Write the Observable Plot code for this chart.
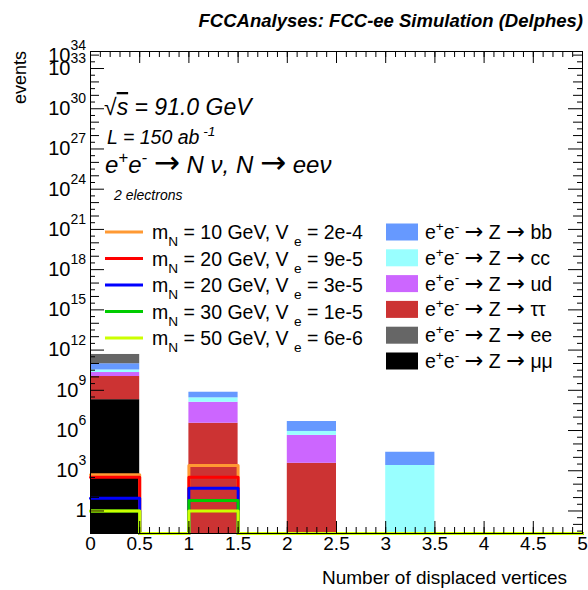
<!DOCTYPE html>
<html><head><meta charset="utf-8">
<script src="https://cdn.jsdelivr.net/npm/d3@7"></script>
<script src="https://cdn.jsdelivr.net/npm/@observablehq/plot@0.6"></script>
<style>
body{margin:0;background:#fff}
#chart{width:588px;height:590px;overflow:hidden}
</style>
</head><body><div id="chart"></div>
<script>
// ---------- data ----------
const binEdges = [0, 0.5, 1, 1.5, 2, 2.5, 3, 3.5, 4, 4.5, 5];
// background legend order (top -> bottom)
const bkgLabels = ["bb", "cc", "ud", "ττ", "ee", "μμ"];
const bkgColors = ["#6699ff", "#99ffff", "#cc66ff", "#cc3333", "#666666", "#000000"];
// events per bin (10 bins of width 0.5)
const bkgBB   = [6.3e10, 0, 4.45e8, 0, 3.85e6, 0, 2.15e4, 0, 0, 0];
const bkgCC   = [1.15e10, 0, 1.46e8, 0, 4.2e5, 0, 2.47e3, 0, 0, 0];
const bkgUD   = [1.05e10, 0, 1.25e8, 0, 4.3e5, 0, 0, 0, 0, 0];
const bkgTT   = [1.05e10, 0, 3.5e6, 0, 3.6e3, 0, 0, 0, 0, 0];
const bkgEE   = [3.75e11, 0, 0, 0, 0, 0, 0, 0, 0, 0];
const bkgMM   = [2.0e8, 0, 0, 0, 0, 0, 0, 0, 0, 0];
// stacking order bottom -> top (indices into legend order)
const stackOrder = [5, 3, 2, 1, 0, 4];

const sigMass  = [10, 20, 20, 30, 50];
const sigVe    = ["2e-4", "9e-5", "3e-5", "1e-5", "6e-6"];
const sigColors = ["#ff9933", "#ff0000", "#0000ff", "#00cc00", "#ccff00"];
const sig10  = [500, 0, 2500, 0, 0, 0, 0, 0, 0, 0];
const sig20a = [330, 0, 330, 0, 0, 0, 0, 0, 0, 0];
const sig20b = [9, 0, 50, 0, 0, 0, 0, 0, 0, 0];
const sig30  = [1, 0, 6, 0, 0, 0, 0, 0, 0, 0];
const sig50  = [1, 0, 1, 0, 0, 0, 0, 0, 0, 0];

const xTickLabels = [0, 0.5, 1, 1.5, 2, 2.5, 3, 3.5, 4, 4.5, 5];
const yLabelExps = [0, 3, 6, 9, 12, 15, 18, 21, 24, 27, 30, 33, 34];

const yMin = Math.pow(10, -1.68), yMax = Math.pow(10, 34.27);

// ---------- derived tables ----------
const bkgSeries = [bkgBB, bkgCC, bkgUD, bkgTT, bkgEE, bkgMM];
const stack = [];
for (let b = 0; b < binEdges.length - 1; b++) {
  let cum = 0;
  for (const k of stackOrder) {
    const v = bkgSeries[k][b];
    if (v > 0) {
      stack.push({x1: binEdges[b], x2: binEdges[b + 1], y1: cum > 0 ? cum : yMin, y2: cum + v, color: bkgColors[k]});
      cum += v;
    }
  }
}
const sigSeries = [sig10, sig20a, sig20b, sig30, sig50];
function stepPts(vals) {
  const pts = vals.map((v, i) => ({x: binEdges[i], y: Math.max(v, yMin)}));
  pts.push({x: binEdges[binEdges.length - 1], y: Math.max(vals[vals.length - 1], yMin)});
  return pts;
}

// ---------- layout ----------
const W = 588, H = 590, mL = 90, mR = 6, mT = 51, mB = 57;
const fw = W - mL - mR, fh = H - mT - mB;
const FONT = "'Liberation Sans', Arial, Helvetica, sans-serif";

const xMinor = d3.range(0, 5.0001, 0.1).map(d => +d.toFixed(2));
const yDec = d3.range(-1, 35, 1);
const yHalf = d3.range(-1.5, 34.3, 1).map(d => Math.pow(10, d));

const plot = Plot.plot({
  width: W, height: H,
  marginLeft: mL, marginRight: mR, marginTop: mT, marginBottom: mB,
  style: {fontFamily: FONT, fontSize: "17px", background: "#fff", overflow: "visible"},
  x: {domain: [0, 5], axis: null},
  y: {type: "log", domain: [yMin, yMax], axis: null},
  color: {type: "identity"},
  marks: [
    Plot.rect(stack, {x1: "x1", x2: "x2", y1: "y1", y2: "y2", fill: "color"}),
    ...sigSeries.map((s, i) => Plot.line(stepPts(s), {x: "x", y: "y", stroke: sigColors[i], strokeWidth: 3, curve: "step-after"})),
    // x ticks (bottom & top, inward)
    Plot.tickX(xMinor, {x: d => d, insetTop: fh - 6, stroke: "black"}),
    Plot.tickX(xTickLabels, {x: d => d, insetTop: fh - 12, stroke: "black"}),
    Plot.tickX(xMinor, {x: d => d, insetBottom: fh - 6, stroke: "black"}),
    Plot.tickX(xTickLabels, {x: d => d, insetBottom: fh - 12, stroke: "black"}),
    // y ticks (left & right, inward)
    Plot.tickY(yDec.filter(d => d % 3 !== 0).map(d => Math.pow(10, d)), {y: d => d, insetRight: fw - 9, stroke: "black"}),
    Plot.tickY(yDec.filter(d => d % 3 === 0).map(d => Math.pow(10, d)), {y: d => d, insetRight: fw - 14, stroke: "black"}),
    Plot.tickY(yHalf, {y: d => d, insetRight: fw - 5, stroke: "black"}),
    Plot.tickY(yDec.filter(d => d % 3 !== 0).map(d => Math.pow(10, d)), {y: d => d, insetLeft: fw - 9, stroke: "black"}),
    Plot.tickY(yDec.filter(d => d % 3 === 0).map(d => Math.pow(10, d)), {y: d => d, insetLeft: fw - 14, stroke: "black"}),
    Plot.tickY(yHalf, {y: d => d, insetLeft: fw - 5, stroke: "black"}),
    Plot.frame({stroke: "black", strokeWidth: 1}),
    // x tick labels
    Plot.text(xTickLabels, {x: d => d, text: d => String(d), frameAnchor: "bottom", dy: 16, fontSize: 19, fill: "black"}),
    // y tick labels: "1"
    Plot.text(yLabelExps.filter(d => d === 0), {y: d => Math.pow(10, d), text: () => "1", frameAnchor: "left", textAnchor: "end", dx: -4, fontSize: 20, fill: "black"}),
    // 1-digit exponents
    Plot.text(yLabelExps.filter(d => d > 0 && d < 10), {y: d => Math.pow(10, d), text: () => "10", frameAnchor: "left", textAnchor: "end", dx: -12, fontSize: 20, fill: "black"}),
    Plot.text(yLabelExps.filter(d => d > 0 && d < 10), {y: d => Math.pow(10, d), text: d => String(d), frameAnchor: "left", textAnchor: "start", dx: -12, dy: -10, fontSize: 14, fill: "black"}),
    // 2-digit exponents
    Plot.text(yLabelExps.filter(d => d >= 10), {y: d => Math.pow(10, d), text: () => "10", frameAnchor: "left", textAnchor: "end", dx: -20, fontSize: 20, fill: "black"}),
    Plot.text(yLabelExps.filter(d => d >= 10), {y: d => Math.pow(10, d), text: d => String(d), frameAnchor: "left", textAnchor: "start", dx: -20, dy: -10, fontSize: 14, fill: "black"})
  ]
});
document.getElementById("chart").appendChild(plot);

// ---------- rich-text annotations ----------
const svg = d3.select(plot);
const g = svg.append("g").attr("font-family", FONT).attr("fill", "black").attr("text-anchor", "start");
function rich(x, y, parts, size, opts = {}) {
  const t = g.append("text").attr("x", x).attr("y", y).attr("font-size", size)
    .attr("text-anchor", opts.anchor || "start");
  if (opts.italic) t.attr("font-style", "italic");
  if (opts.bold) t.attr("font-weight", "bold");
  if (opts.transform) t.attr("transform", opts.transform);
  const arrowScale = opts.arrowScale || 1.1;
  let shift = 0;
  for (const [s, k, extra] of parts) {
    const target = k === "sup" ? -0.42 * size : k === "sub" ? 0.38 * size : 0;
    const ts = t.append("tspan").attr("dy", target - shift).attr("font-size", k === "n" ? size : size * 0.7).text(s);
    if (extra === "over") ts.style("text-decoration", "overline");
    if (extra === "upright") ts.attr("font-style", "normal");
    if (extra === "arrow") ts.attr("font-style", "normal").attr("font-family", "'DejaVu Sans', sans-serif").attr("font-size", size * arrowScale);
    shift = target;
  }
  return t;
}
const ARROW = ["→", "n", "arrow"];
// title
rich(583, 27, [["FCCAnalyses: FCC-ee Simulation (Delphes)", "n"]], 18.5, {bold: true, italic: true, anchor: "end"});
// axis titles
rich(0, 0, [["events", "n"]], 18, {anchor: "end", transform: "translate(26,51) rotate(-90)"});
rich(567, 584, [["Number of displaced vertices", "n"]], 19, {anchor: "end"});
// physics text
rich(104, 115, [["√", "n", "upright"], ["s", "n", "over"], [" = 91.0 GeV", "n"]], 23, {italic: true});
rich(107, 144, [["L = 150 ab", "n"], [" -1", "sup"]], 19.5, {italic: true});
rich(105, 173, [["e", "n"], ["+", "sup"], ["e", "n"], ["-", "sup"], [" ", "n"], ARROW, [" N ν, N ", "n"], ARROW, [" eeν", "n"]], 24, {italic: true, arrowScale: 1.3});
rich(114, 200, [["2 electrons", "n"]], 14, {italic: true});

// signal legend
sigMass.forEach((m, i) => {
  const yy = 232 + i * 26.5;
  g.append("line").attr("x1", 105).attr("x2", 143).attr("y1", yy).attr("y2", yy)
    .attr("stroke", sigColors[i]).attr("stroke-width", 3);
  rich(152, yy + 7, [["m", "n"], ["N", "sub"], [` = ${m} GeV, V `, "n"], ["e", "sub"], [` = ${sigVe[i]}`, "n"]], 19.5);
});
// background legend
bkgLabels.forEach((lab, i) => {
  const yy = 232 + i * 25.8;
  g.append("rect").attr("x", 386).attr("y", yy - 8.5).attr("width", 32).attr("height", 17)
    .attr("fill", bkgColors[i]);
  rich(425, yy + 7, [["e", "n"], ["+", "sup"], ["e", "n"], ["-", "sup"], [" ", "n"], ARROW, [" Z ", "n"], ARROW, [" " + lab, "n"]], 19.5, {arrowScale: 1.15});
});
</script>
</body></html>
